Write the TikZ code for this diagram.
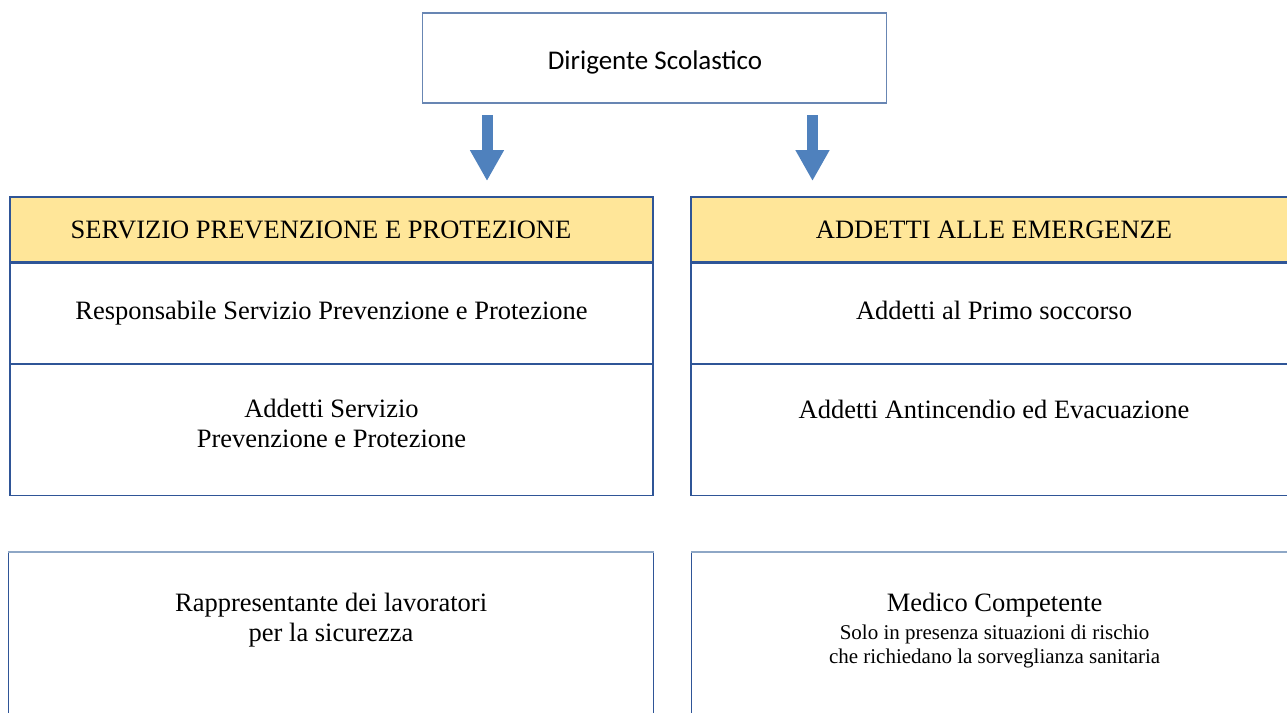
\documentclass[tikz,border=0pt]{standalone}
\usepackage{fontspec}
\setmainfont{Liberation Serif}
\newfontfamily\calibrifont{Carlito}
\usetikzlibrary{positioning}
\usetikzlibrary{arrows.meta}
\definecolor{boxblue}{HTML}{2F5597}
\definecolor{lightedge}{HTML}{8EA7C6}
\definecolor{headgold}{HTML}{FFE699}
\definecolor{arrowblue}{HTML}{4F81BD}
\newcommand{\bodysize}{\fontsize{13.25}{15}\selectfont}
\newcommand{\notesize}{\fontsize{10.5}{12}\selectfont}

\begin{document}
\begin{tikzpicture}[x=0.5pt, y=-0.5pt,
  cell/.style={rectangle, draw=boxblue, line width=0.6pt, inner sep=0pt, font=\bodysize},
  headcell/.style={cell, fill=headgold},
  celltext/.style={align=center, inner sep=0pt, font=\bodysize},
  downarrow/.style={arrowblue, line width=5.5pt, -{Triangle[length=15.5pt,width=16pt]}}]
%\draw [help lines] (0,0) grid[step=50] (1287,713);
\useasboundingbox (0,0) rectangle (1287,713);

\node[cell, draw=lightedge!60!boxblue, minimum width=232pt, minimum height=45pt] (dir) at (654.5,58) {};
\node[celltext, font=\calibrifont\fontsize{13.5}{16}\selectfont] (dirtext) at (655,62) {Dirigente Scolastico};

% left column
\node[headcell, minimum width=321.5pt, minimum height=32.5pt]        (spp)   at (331.5,229.5) {};
\node[celltext]                                                       (spptext) at (321,229.5) {SERVIZIO PREVENZIONE E PROTEZIONE};
\node[cell, minimum width=321.5pt, minimum height=50pt, below=0pt of spp]  (rspp)  {Responsabile Servizio Prevenzione e Protezione};
\node[cell, minimum width=321.5pt, minimum height=65.5pt, below=0pt of rspp] (aspp) {};
\node[celltext] (aspptext) at ([yshift=-30pt]aspp.north) {Addetti Servizio\\Prevenzione e Protezione};

% right column
\node[headcell, minimum width=303pt, minimum height=32.5pt]           (emerg) at (994,229.5) {ADDETTI ALLE EMERGENZE};
\node[cell, minimum width=303pt, minimum height=50pt, below=0pt of emerg]  (soccorso) {};
\node[celltext] (soccorsotext) at ([yshift=-24pt]soccorso.north) {Addetti al Primo soccorso};
\node[cell, minimum width=303pt, minimum height=65.5pt, below=0pt of soccorso] (antinc) {};
\node[celltext] (antinctext) at ([yshift=-23pt]antinc.north) {Addetti Antincendio ed Evacuazione};

% bottom boxes
\node[cell, minimum width=322.5pt, minimum height=92pt, anchor=north west] (rls) at (8,552) {};
\draw[lightedge, line width=0.8pt] (rls.north west) -- (rls.north east);
\node[celltext] (rlstext) at ([yshift=-34pt]rls.north) {Rappresentante dei lavoratori\\per la sicurezza};

\node[cell, minimum width=303pt, minimum height=92pt, anchor=north west] (medico) at (691,552) {};
\draw[lightedge, line width=0.8pt] (medico.north west) -- (medico.north east);
\node[celltext, font=\notesize] (medicotext) at ([yshift=-39.5pt]medico.north)
  {{\bodysize Medico Competente}\\[2pt]Solo in presenza situazioni di rischio\\che richiedano la sorveglianza sanitaria};

% Edges
\coordinate (leftstart)  at (487,115);
\coordinate (leftend)    at (487,181);
\coordinate (rightstart) at (812.5,115);
\coordinate (rightend)   at (812.5,181);
\draw[downarrow] (leftstart) -- (leftend);
\draw[downarrow] (rightstart) -- (rightend);
\end{tikzpicture}
\end{document}
